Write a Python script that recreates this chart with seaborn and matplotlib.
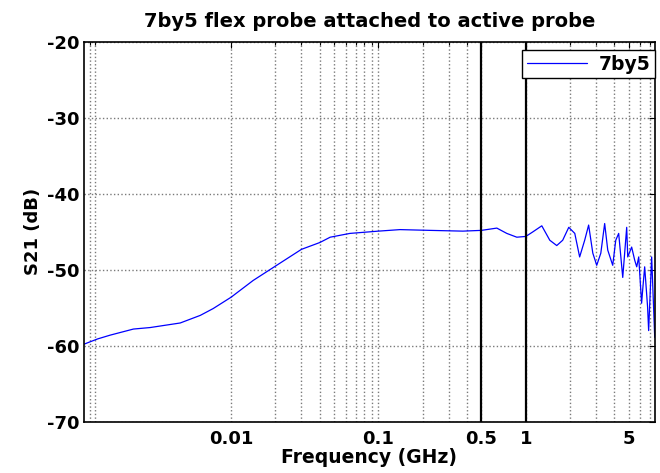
import numpy as np
import matplotlib
matplotlib.use('Agg')
import matplotlib.pyplot as plt
import seaborn as sns

# S21 of the 7by5 flex probe
freq_ghz = [0.001, 0.00124, 0.00151, 0.00217, 0.00282, 0.00451, 0.00617, 0.00755,
            0.01, 0.0141, 0.02, 0.03, 0.04, 0.047, 0.064, 0.1, 0.14, 0.223, 0.374,
            0.5, 0.636, 0.743, 0.869, 1.0, 1.116, 1.284, 1.455, 1.622, 1.78, 1.957,
            2.15, 2.32, 2.51, 2.67, 2.85, 3.03, 3.23, 3.43, 3.60, 3.89, 4.08, 4.27,
            4.55, 4.84, 4.92, 5.23, 5.48, 5.66, 5.84, 6.11, 6.21, 6.41, 6.71, 6.82,
            7.15, 7.38, 7.5]
s21_db = [-59.8, -59.1, -58.6, -57.8, -57.6, -57.0, -56.0, -55.1,
          -53.6, -51.4, -49.5, -47.3, -46.4, -45.7, -45.2, -44.9, -44.7, -44.8, -44.9,
          -44.8, -44.5, -45.2, -45.7, -45.6, -45.0, -44.2, -46.1, -46.8, -46.1, -44.4,
          -45.2, -48.3, -46.1, -44.1, -47.8, -49.4, -47.8, -43.9, -47.4, -49.4, -46.1, -45.2,
          -51.0, -44.4, -48.3, -47.0, -48.7, -49.6, -48.3, -54.4, -52.7, -49.6, -54.9, -58.0,
          -48.3, -55.3, -58.9]

major_ticks = [0.01, 0.1, 0.5, 1, 5]
major_labels = ['0.01', '0.1', '0.5', '1', '5']
minor_ticks = [0.0011, 0.0012, 0.02, 0.03, 0.04, 0.05, 0.06, 0.07, 0.08, 0.09,
               0.2, 0.3, 0.4, 2, 3, 4, 6, 7]
band_edges = [0.5, 1]

sns.set_style('white')
plt.rcParams['font.family'] = ['DejaVu Sans']
plt.rcParams['font.weight'] = 'bold'
plt.rcParams['axes.unicode_minus'] = False
plt.rcParams['text.color'] = 'black'
plt.rcParams['axes.labelcolor'] = 'black'

fig = plt.figure(figsize=(6.6, 4.73), dpi=100)
ax = fig.add_axes([0.127, 0.1085, 0.865, 0.8025])

sns.lineplot(x=freq_ghz, y=s21_db, ax=ax, color='blue', linewidth=0.9,
             label='7by5', sort=False, estimator=None)

ax.set_xscale('log')
ax.set_xlim(0.001, 7.5)
ax.set_ylim(-70, -20)

ax.set_xticks(major_ticks)
ax.set_xticklabels(major_labels)
ax.set_xticks(minor_ticks, minor=True)
ax.xaxis.set_minor_formatter(matplotlib.ticker.NullFormatter())
ax.set_yticks([-70, -60, -50, -40, -30, -20])

ax.grid(True, which='both', axis='x', color='#7a7a7a', linestyle=':', linewidth=1.0)
ax.grid(True, which='major', axis='y', color='#7a7a7a', linestyle=':', linewidth=1.0)
for b in band_edges:
    ax.axvline(b, color='black', linewidth=1.6)

ax.tick_params(which='both', direction='in', top=True, right=True, colors='black',
               labelsize=13)
ax.tick_params(axis='x', pad=6)
ax.tick_params(axis='y', pad=3)
ax.tick_params(which='major', length=4, width=0.8)
ax.tick_params(which='minor', length=2.5, width=0.8)
for lab in ax.get_xticklabels() + ax.get_yticklabels():
    lab.set_fontweight('bold')
for sp in ax.spines.values():
    sp.set_color('black')
    sp.set_linewidth(1.2)

ax.set_title('7by5 flex probe attached to active probe', fontsize=14,
             fontweight='bold', pad=11)
ax.set_xlabel('Frequency (GHz)', fontsize=13.5, fontweight='bold', labelpad=0)
ax.set_ylabel('S21 (dB)', fontsize=13, fontweight='bold', labelpad=4)

leg = ax.legend(loc='upper right', bbox_to_anchor=(1.0, 0.979), frameon=True,
                fancybox=False, fontsize=13.5, borderaxespad=0, handlelength=3.2,
                borderpad=0.25, handletextpad=0.6)
leg.get_frame().set_edgecolor('black')
leg.get_frame().set_linewidth(1.0)
leg.get_frame().set_alpha(1)
for t in leg.get_texts():
    t.set_fontweight('bold')

fig.savefig('out.png', dpi=100)
